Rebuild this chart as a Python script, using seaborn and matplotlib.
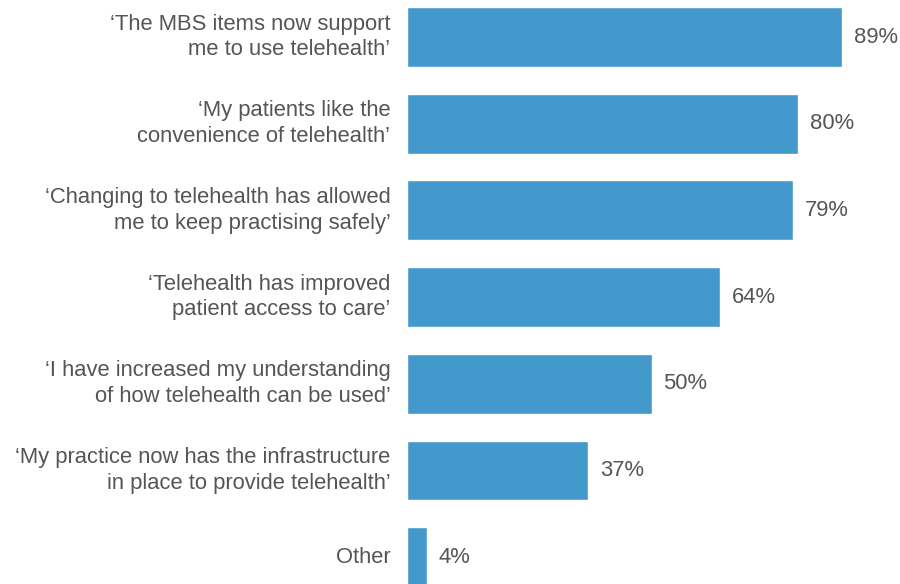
import matplotlib
matplotlib.use('Agg')
import matplotlib.pyplot as plt
import seaborn as sns
import pandas as pd

statements = [
    "\u2018The MBS items now support\nme to use telehealth\u2019",
    "\u2018My patients like the\nconvenience of telehealth\u2019",
    "\u2018Changing to telehealth has allowed\nme to keep practising safely\u2019",
    "\u2018Telehealth has improved\npatient access to care\u2019",
    "\u2018I have increased my understanding\nof how telehealth can be used\u2019",
    "\u2018My practice now has the infrastructure\nin place to provide telehealth\u2019",
    "Other",
]
percent = [89, 80, 79, 64, 50, 37, 4]

df = pd.DataFrame({'statement': statements, 'percent': percent})

sns.set_style('white')
plt.rcParams['font.family'] = ['Liberation Sans', 'DejaVu Sans']

fig = plt.figure(figsize=(9, 5.84), dpi=100)
ax = fig.add_axes([407/900, 0, 489/900, 1])

sns.barplot(data=df, x='percent', y='statement', color='#4499cc',
            saturation=1, width=0.69, ax=ax)

ax.set_xlim(0, 100)
ax.set_ylim(6.31, -0.427)
ax.set_xlabel('')
ax.set_ylabel('')
ax.set_xticks([])
ax.tick_params(axis='y', length=0, pad=12, labelsize=15.8, labelcolor='#555555')
for lbl in ax.get_yticklabels():
    lbl.set_linespacing(1.3)
    lbl.set_va('center')
sns.despine(ax=ax, left=True, bottom=True)

for i, v in enumerate(percent):
    ax.text(v + 2.4, i, f'{v}%', va='center', ha='left',
            fontsize=15.8, color='#555555')

fig.savefig('out.png', dpi=100)
